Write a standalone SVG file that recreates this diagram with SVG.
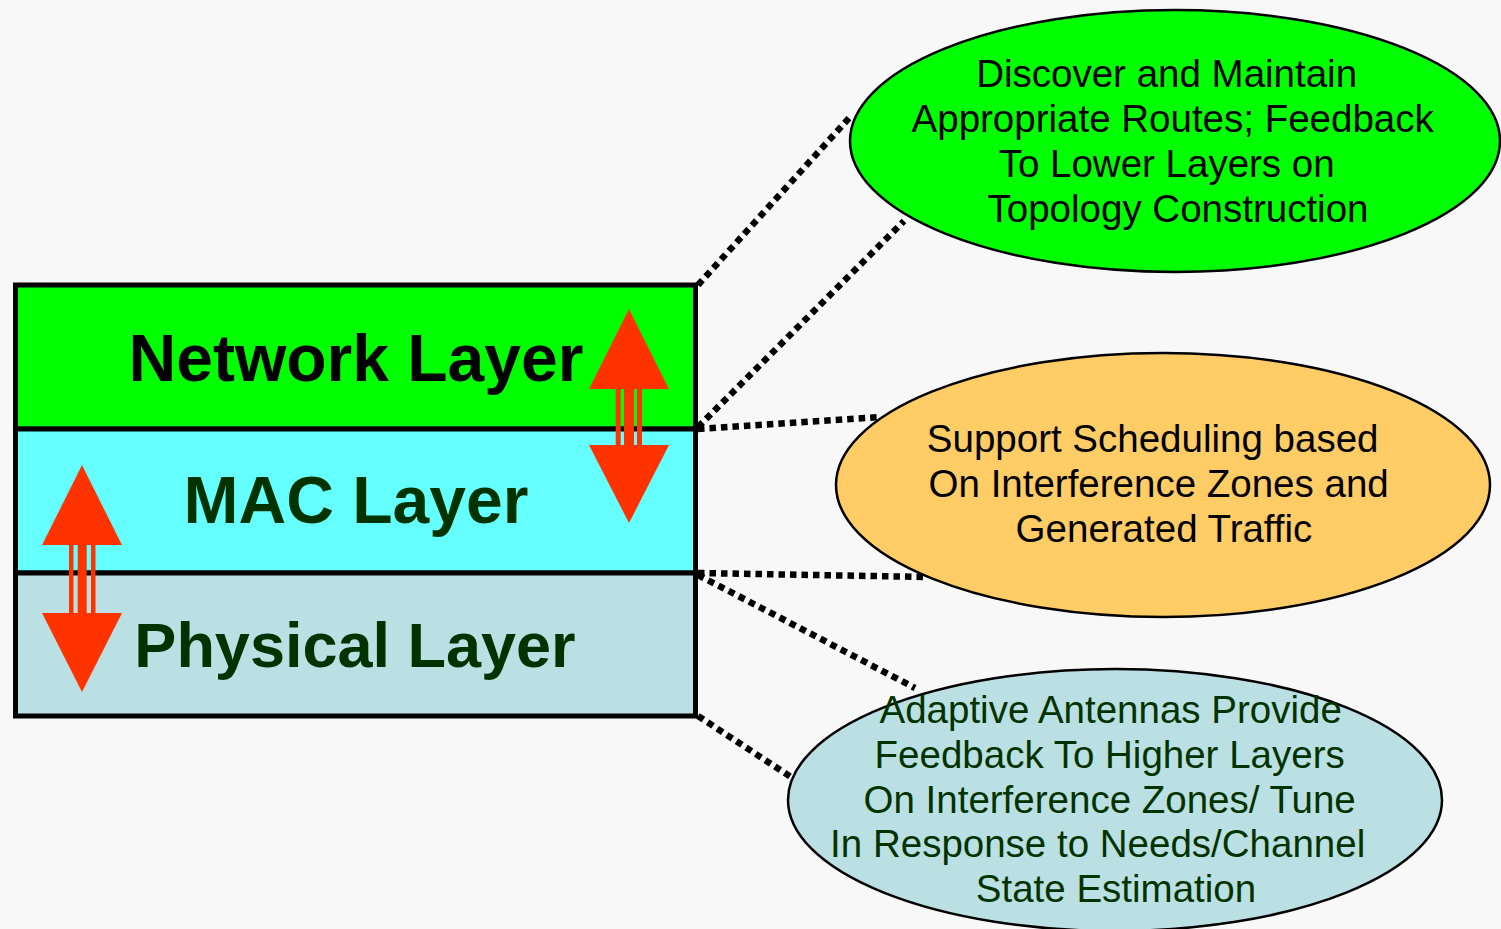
<svg xmlns="http://www.w3.org/2000/svg" width="1501" height="929" viewBox="0 0 1501 929">
  <style>
    .layer { stroke: #000; stroke-width: 5; }
    .label { font-family: "Liberation Sans", Arial, sans-serif; font-weight: bold; font-size: 66px; text-anchor: middle; }
    .note { font-family: "Liberation Sans", Arial, sans-serif; font-size: 38.5px; text-anchor: middle; }
    .bubble { stroke: #000; stroke-width: 2.5; }
    .dots { stroke: #000; stroke-width: 6.5; stroke-dasharray: 6.5 5; fill: none; }
    .arrow { fill: #FF3300; }
  </style>

  <rect width="1501" height="929" fill="#F8F8F8"/>

  <!-- dotted connectors from the stack edges to the description bubbles -->
  <g id="connectors">
    <line class="dots" x1="698" y1="285" x2="850" y2="117"/>
    <line class="dots" x1="698" y1="427" x2="904" y2="221"/>
    <line class="dots" x1="698" y1="429" x2="880" y2="417"/>
    <line class="dots" x1="698" y1="573" x2="928" y2="577"/>
    <line class="dots" x1="698" y1="575" x2="915" y2="688"/>
    <line class="dots" x1="698" y1="716" x2="794" y2="779"/>
  </g>

  <!-- protocol stack -->
  <g id="network-layer">
    <rect class="layer" x="15.5" y="285" width="680" height="144" fill="#00FF00"/>
    <text class="label" x="356" y="381" fill="#000">Network Layer</text>
  </g>
  <g id="mac-layer">
    <rect class="layer" x="15.5" y="429" width="680" height="144" fill="#66FFFF"/>
    <text class="label" x="356" y="523" fill="#003300">MAC Layer</text>
  </g>
  <g id="physical-layer">
    <rect class="layer" x="15.5" y="573" width="680" height="143" fill="#BBE0E3"/>
    <text class="label" x="355" y="667" fill="#003300" style="font-size:63px">Physical Layer</text>
  </g>

  <!-- cross-layer interaction arrows: two heads joined by a triple-stripe shaft -->
  <g id="arrow-net-mac">
    <polygon class="arrow" points="629,309 669,389 589,389"/>
    <rect class="arrow" x="615.7" y="388" width="5" height="58"/>
    <rect class="arrow" x="624" y="388" width="10" height="58"/>
    <rect class="arrow" x="637" y="388" width="5" height="58"/>
    <polygon class="arrow" points="589,445 669,445 629,523"/>
  </g>
  <g id="arrow-mac-phy">
    <polygon class="arrow" points="82,465 122,545 42,545"/>
    <rect class="arrow" x="69" y="544" width="4.5" height="70"/>
    <rect class="arrow" x="77.7" y="544" width="9" height="70"/>
    <rect class="arrow" x="91" y="544" width="4.5" height="70"/>
    <polygon class="arrow" points="42,613 122,613 82,692"/>
  </g>

  <!-- description bubbles -->
  <g id="routing-bubble">
    <ellipse class="bubble" cx="1175" cy="141" rx="325" ry="131" fill="#00FF00"/>
    <text class="note" fill="#000">
      <tspan x="1172" y="87">Discover and Maintain</tspan>
      <tspan x="1178" y="132">Appropriate Routes; Feedback</tspan>
      <tspan x="1172" y="177">To Lower Layers on</tspan>
      <tspan x="1178" y="222">Topology Construction</tspan>
    </text>
  </g>
  <g id="scheduling-bubble">
    <ellipse class="bubble" cx="1163" cy="485" rx="327" ry="132" fill="#FFCC66"/>
    <text class="note" fill="#000">
      <tspan x="1158" y="452">Support Scheduling based</tspan>
      <tspan x="1164" y="497">On Interference Zones and</tspan>
      <tspan x="1164" y="542">Generated Traffic</tspan>
    </text>
  </g>
  <g id="antenna-bubble">
    <ellipse class="bubble" cx="1115" cy="800" rx="327" ry="131" fill="#BBE0E3"/>
    <text class="note" fill="#003300">
      <tspan x="1116" y="723">Adaptive Antennas Provide</tspan>
      <tspan x="1115" y="768">Feedback To Higher Layers</tspan>
      <tspan x="1115" y="813">On Interference Zones/ Tune</tspan>
      <tspan x="1103" y="857">In Response to Needs/Channel</tspan>
      <tspan x="1116" y="902">State Estimation</tspan>
    </text>
  </g>
</svg>
